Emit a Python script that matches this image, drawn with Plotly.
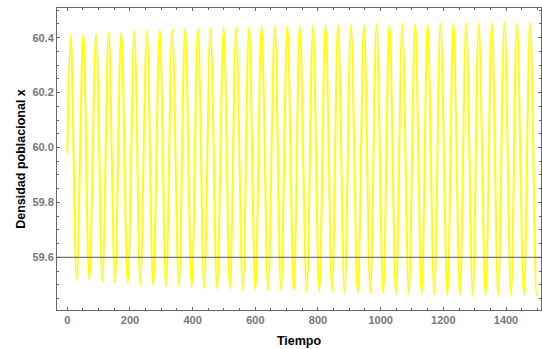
import plotly.graph_objects as go

# Population density x over time: start value, successive maxima and minima, end value
start_t, start_x = 0, 59.98
peak_t = [11, 51, 92, 132, 172, 214, 254, 295, 335, 376, 417, 457, 499, 539, 580,
          620, 662, 702, 742, 784, 824, 864, 905, 947, 987, 1028, 1069, 1110, 1150,
          1191, 1232, 1273, 1313, 1355, 1395, 1435, 1477]
peak_x = [60.409, 60.413, 60.414, 60.417, 60.420, 60.423, 60.426, 60.429, 60.429,
          60.432, 60.433, 60.435, 60.436, 60.440, 60.440, 60.441, 60.442, 60.442,
          60.443, 60.443, 60.444, 60.446, 60.446, 60.447, 60.447, 60.448, 60.451,
          60.451, 60.449, 60.451, 60.453, 60.452, 60.451, 60.453, 60.454, 60.452, 60.454]
trough_t = [30, 70, 112, 152, 193, 233, 274, 315, 356, 397, 437, 478, 519, 560, 600,
            641, 682, 723, 764, 804, 845, 885, 927, 967, 1008, 1049, 1090, 1131, 1171,
            1213, 1253, 1294, 1335, 1375, 1416, 1457, 1498]
trough_x = [59.520, 59.517, 59.512, 59.508, 59.505, 59.501, 59.498, 59.495, 59.494,
            59.490, 59.488, 59.485, 59.484, 59.481, 59.480, 59.480, 59.479, 59.478,
            59.477, 59.475, 59.473, 59.472, 59.470, 59.470, 59.468, 59.466, 59.466,
            59.465, 59.465, 59.463, 59.463, 59.462, 59.463, 59.462, 59.462, 59.463, 59.462]
end_t, end_x = 1500, 59.47

# Horizontal axis crossing level
axis_origin = 59.6

x_tick_vals = [0, 200, 400, 600, 800, 1000, 1200, 1400]
y_tick_vals = [59.6, 59.8, 60.0, 60.2, 60.4]
y_tick_text = ["59.6", "59.8", "60.0", "60.2", "60.4"]

t = [start_t]
x = [start_x]
for pt, px, tt, tx in zip(peak_t, peak_x, trough_t, trough_x):
    t += [pt, tt]
    x += [px, tx]
t.append(end_t)
x.append(end_x)

frame = "#666666"
tick_font = dict(family="Liberation Sans, Arial, sans-serif", size=11, color="#777777")
title_font = dict(family="Liberation Sans, Arial, sans-serif", size=12.5, color="#000000")

fig = go.Figure()
fig.add_trace(go.Scatter(
    x=t, y=x, mode="lines",
    line=dict(color="#ffff00", width=2, shape="spline", smoothing=1),
    hoverinfo="skip", showlegend=False,
))

fig.add_shape(type="line", xref="paper", x0=0, x1=1, yref="y", y0=axis_origin, y1=axis_origin,
              line=dict(color="#555555", width=1), layer="above")

fig.update_layout(
    width=542, height=349,
    margin=dict(l=57, r=1, t=8, b=39),
    paper_bgcolor="white", plot_bgcolor="white",
    xaxis=dict(
        range=[-32.9, 1511.7], showgrid=False, zeroline=False,
        showline=True, linecolor=frame, linewidth=1, mirror="allticks",
        ticks="inside", ticklen=3, tickcolor=frame, tickwidth=1,
        tickvals=x_tick_vals, ticktext=[f"<b>{v}</b>" for v in x_tick_vals],
        tickfont=tick_font,
        minor=dict(dtick=50, tick0=0, ticks="inside", ticklen=2, tickcolor=frame, showgrid=False),
        title=dict(text="<b>Tiempo</b>", font=title_font, standoff=11),
    ),
    yaxis=dict(
        range=[59.408, 60.508], showgrid=False, zeroline=False,
        showline=True, linecolor=frame, linewidth=1, mirror="allticks",
        ticks="inside", ticklen=3, tickcolor=frame, tickwidth=1,
        tickvals=y_tick_vals, ticktext=[f"<b>{s}</b>" for s in y_tick_text],
        tickfont=tick_font,
        minor=dict(dtick=0.05, tick0=59.6, ticks="inside", ticklen=2, tickcolor=frame, showgrid=False),
        title=dict(text="<b>Densidad poblacional x</b>", font=title_font, standoff=4),
    ),
)

fig.write_html("out.html")
